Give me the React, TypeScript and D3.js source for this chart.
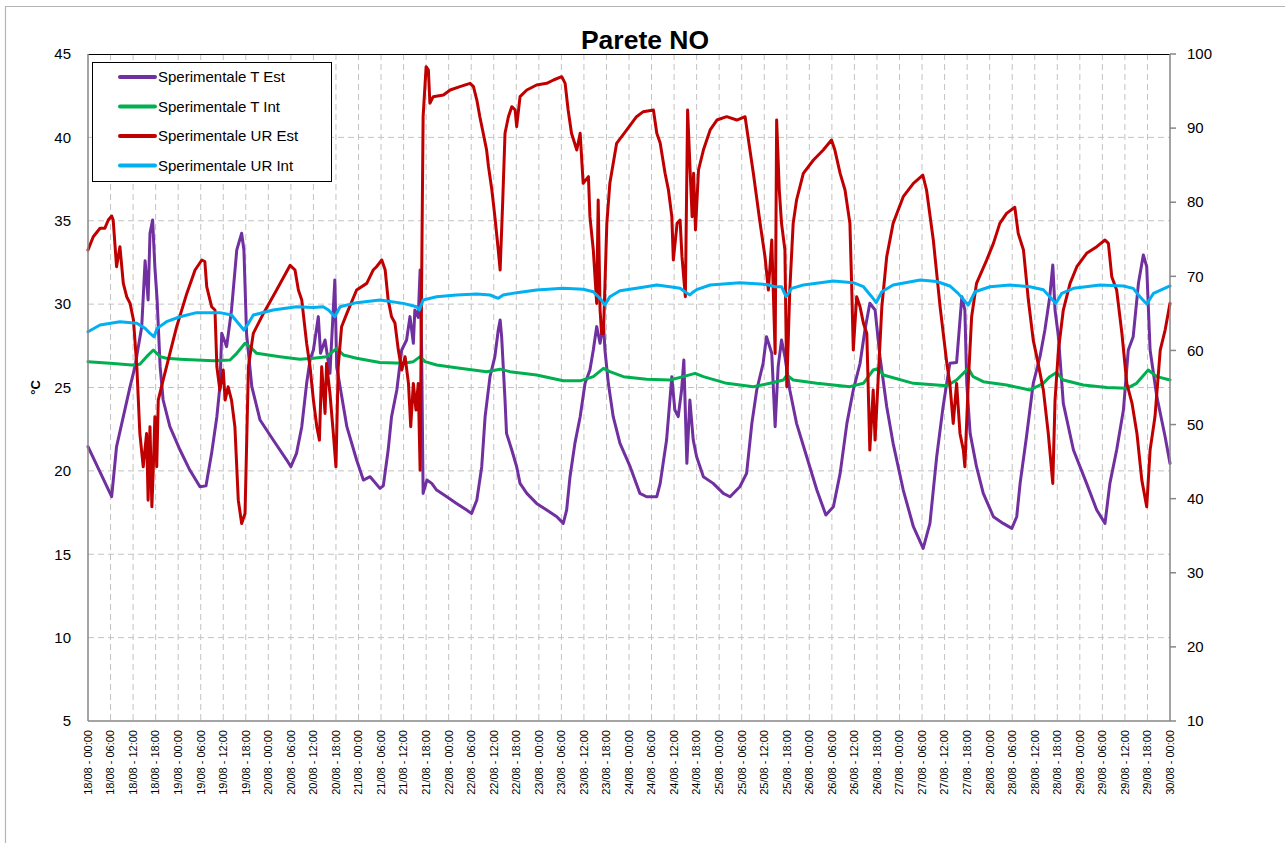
import React from "react";
import * as d3 from "d3";

// ---------- DATA ----------
// time in hours since 18/08 00:00, value
const tEst: [number, number][] = [
  [0, 21.45], [6.3, 18.45], [7.6, 21.45], [9.4, 23.25], [11.2, 25.05], [12.5, 26.25], [14.3, 28.65],
  [15.2, 32.6], [16.0, 30.25], [16.5, 34.25], [17.2, 35.05], [17.8, 32.2], [18.4, 30.25], [19.2, 26.25],
  [20.0, 24.25], [21.8, 22.65], [24.5, 21.25], [27.1, 20.05], [29.8, 19.05], [31.4, 19.1], [32.9, 21.05],
  [34.3, 23.25], [35.1, 25.05], [35.6, 28.25], [36.9, 27.45], [38.2, 29.65], [39.6, 33.25], [40.9, 34.25],
  [41.5, 33.25], [42.2, 28.25], [43.6, 25.05], [45.8, 23.05], [49.3, 21.85], [52.9, 20.65], [54.0, 20.25],
  [55.5, 21.05], [56.9, 22.65], [58.2, 25.25], [59.1, 26.65], [60.0, 27.25], [61.3, 29.25], [61.9, 27.05],
  [63.1, 27.85], [64.4, 25.85], [65.7, 31.45], [66.2, 26.25], [67.1, 25.05], [68.9, 22.65], [71.5, 20.65],
  [73.3, 19.45], [75.1, 19.65], [77.7, 18.95], [78.6, 19.1], [79.9, 21.25], [80.8, 23.25], [82.2, 24.85],
  [83.5, 27.25], [84.8, 27.85], [85.7, 29.25], [86.6, 27.65], [87.0, 29.65], [87.9, 29.2], [88.4, 32.05],
  [88.8, 27.25], [89.2, 18.65], [90.2, 19.45], [91.5, 19.25], [92.8, 18.85], [95.5, 18.45], [98.1, 18.05],
  [100.8, 17.65], [102.1, 17.45], [103.5, 18.25], [104.8, 20.25], [105.7, 23.25], [107.0, 25.65],
  [108.3, 26.85], [109.2, 28.45], [109.7, 29.05], [110.1, 28.05], [111.0, 24.25], [111.4, 22.25],
  [112.8, 21.25], [114.1, 20.25], [115.0, 19.25], [116.8, 18.65], [119.4, 18.05], [122.1, 17.65],
  [124.8, 17.25], [126.5, 16.85], [127.4, 17.65], [128.3, 19.65], [129.6, 21.65], [131.0, 23.25],
  [132.3, 25.25], [133.6, 26.05], [134.5, 27.25], [135.4, 28.65], [136.3, 27.65], [137.2, 28.85],
  [137.6, 27.25], [138.5, 25.25], [139.8, 23.25], [141.6, 21.65], [144.3, 20.25], [146.9, 18.65],
  [148.7, 18.45], [151.4, 18.45], [152.3, 19.25], [154.0, 21.85], [155.4, 25.65], [156.2, 23.65],
  [157.1, 23.25], [158.0, 24.85], [158.6, 26.65], [159.4, 20.45], [160.2, 24.25], [161.1, 21.85],
  [162.0, 20.85], [163.8, 19.65], [166.4, 19.25], [169.1, 18.65], [170.9, 18.45], [173.5, 19.05],
  [175.3, 19.85], [176.7, 22.85], [178.0, 24.85], [179.7, 26.45], [180.6, 28.05], [182.0, 27.05],
  [182.9, 22.65], [183.7, 26.25], [184.6, 27.85], [185.5, 26.85], [186.8, 24.85], [188.6, 22.85],
  [191.3, 20.85], [194.0, 18.85], [196.4, 17.35], [198.4, 17.85], [200.2, 19.85], [202.0, 22.85],
  [203.7, 24.85], [205.5, 26.45], [206.8, 28.45], [208.1, 30.05], [209.5, 29.65], [210.8, 26.85],
  [212.6, 23.85], [214.3, 21.65], [217.0, 18.85], [219.7, 16.65], [222.3, 15.35], [224.1, 16.85],
  [225.9, 20.85], [227.6, 23.85], [229.4, 26.45], [231.2, 26.5], [232.6, 30.45], [233.4, 29.65],
  [233.9, 25.25], [234.8, 22.25], [236.5, 20.25], [238.3, 18.65], [241.0, 17.25], [243.6, 16.85],
  [245.9, 16.55], [247.2, 17.25], [248.1, 19.25], [249.8, 22.05], [251.6, 25.25], [253.4, 26.85],
  [254.7, 28.45], [256.0, 30.45], [256.8, 32.35], [257.4, 29.65], [258.3, 28.05], [259.6, 24.05],
  [262.3, 21.25], [265.8, 19.25], [268.5, 17.65], [270.7, 16.85], [272.0, 19.25], [273.8, 21.25],
  [275.6, 23.65], [276.9, 27.25], [278.2, 28.05], [279.6, 31.25], [280.9, 32.95], [281.8, 32.25],
  [282.7, 27.25], [284.5, 24.45], [286.7, 22.05], [288, 20.45],
];

const tInt: [number, number][] = [
  [0, 26.55], [5.9, 26.45], [11.6, 26.35], [13.8, 26.4], [15.6, 26.85], [17.4, 27.25], [19.2, 26.85],
  [20.9, 26.75], [24.5, 26.7], [28.9, 26.65], [33.4, 26.6], [37.8, 26.65], [39.6, 27.05], [41.8, 27.65],
  [43.1, 27.45], [44.9, 27.05], [51.1, 26.85], [56.4, 26.7], [60.0, 26.75], [63.5, 26.85], [66.2, 27.35],
  [68.0, 26.95], [71.5, 26.75], [77.7, 26.5], [83.9, 26.45], [86.6, 26.55], [88.4, 26.85], [89.7, 26.55],
  [92.8, 26.35], [99.0, 26.15], [106.1, 25.95], [109.7, 26.1], [112.3, 25.95], [119.4, 25.75],
  [126.5, 25.4], [131.0, 25.4], [134.5, 25.65], [137.2, 26.15], [138.9, 25.95], [142.5, 25.65],
  [148.7, 25.5], [154.9, 25.45], [158.4, 25.65], [161.6, 25.85], [163.8, 25.65], [170.0, 25.25],
  [177.1, 25.05], [181.5, 25.25], [185.1, 25.45], [186.0, 25.75], [187.7, 25.45], [194.0, 25.25],
  [202.8, 25.05], [206.4, 25.25], [209.0, 26.05], [210.4, 26.15], [211.7, 25.75], [219.7, 25.25],
  [228.6, 25.1], [231.2, 25.45], [234.3, 26.15], [235.6, 25.65], [238.3, 25.35], [244.5, 25.15],
  [250.7, 24.85], [254.3, 25.25], [256.0, 25.65], [257.8, 25.9], [259.6, 25.45], [264.9, 25.15],
  [271.2, 25.0], [276.5, 24.95], [279.1, 25.25], [282.2, 26.05], [284.5, 25.65], [288, 25.45],
];

const urEst: [number, number][] = [
  [0, 73.55], [1.4, 75.35], [3.2, 76.48], [4.5, 76.5], [5.4, 77.6], [6.3, 78.14], [6.7, 77.6], [7.6, 71.3],
  [8.5, 74.0], [9.4, 69.05], [10.3, 67.25], [11.2, 66.35], [12.1, 64.1], [13.0, 57.8], [13.8, 48.8],
  [14.7, 44.3], [15.6, 48.8], [16.0, 39.8], [16.5, 49.7], [17.0, 38.9], [17.4, 44.3], [17.8, 51.05],
  [18.3, 44.3], [18.7, 53.3], [20.0, 56.0], [21.8, 59.6], [23.6, 63.2], [26.3, 67.7], [28.5, 70.85],
  [30.3, 72.2], [31.1, 72.0], [31.6, 68.6], [32.9, 65.9], [33.8, 65.45], [34.3, 57.8], [35.1, 54.65],
  [36.0, 57.35], [36.5, 53.3], [37.3, 55.1], [38.2, 53.3], [39.1, 49.7], [40.0, 39.8], [40.9, 36.65],
  [41.8, 38.0], [42.7, 57.8], [44.0, 62.3], [46.7, 65.0], [50.2, 68.15], [53.8, 71.5], [55.1, 70.85],
  [56.0, 68.15], [56.9, 66.8], [58.2, 60.95], [59.1, 57.8], [60.0, 53.3], [60.9, 49.7], [61.6, 47.9],
  [62.2, 57.8], [63.1, 51.5], [63.5, 58.25], [64.4, 54.2], [65.3, 48.8], [66.0, 44.3], [66.6, 57.8],
  [67.5, 63.2], [68.9, 65.0], [71.5, 68.15], [74.2, 69.05], [75.9, 70.85], [76.8, 71.3], [78.2, 72.2],
  [79.1, 70.85], [79.9, 66.8], [80.8, 64.55], [81.7, 63.7], [82.6, 60.05], [83.5, 57.35], [84.4, 59.15],
  [85.3, 55.55], [85.9, 49.7], [86.6, 55.55], [87.3, 51.95], [87.9, 55.55], [88.4, 43.85], [88.8, 69.05],
  [89.2, 91.54], [90.0, 98.29], [90.6, 97.84], [91.0, 93.35], [91.9, 94.24], [94.6, 94.47], [96.4, 95.14],
  [99.0, 95.59], [101.7, 96.04], [102.6, 95.59], [103.5, 93.79], [104.3, 91.54], [105.2, 89.3],
  [106.1, 87.04], [106.6, 84.8], [107.5, 81.65], [108.3, 78.05], [109.2, 73.55], [109.7, 70.85],
  [110.4, 80.3], [111.0, 89.3], [111.9, 91.54], [112.8, 92.89], [113.7, 92.44], [114.1, 90.19],
  [115.0, 94.24], [116.8, 95.14], [119.4, 95.82], [122.1, 96.04], [123.9, 96.49], [126.1, 96.94],
  [127.0, 96.04], [127.8, 92.44], [128.7, 89.3], [130.1, 87.04], [131.0, 89.3], [131.8, 82.55],
  [133.2, 83.45], [133.6, 78.05], [134.5, 73.55], [135.4, 66.35], [135.8, 80.3], [136.3, 65.45],
  [136.7, 62.3], [137.2, 62.3], [138.1, 77.15], [138.9, 82.55], [140.7, 87.94], [143.4, 89.75],
  [146.0, 91.54], [147.8, 92.22], [150.5, 92.44], [151.4, 89.3], [152.3, 88.0], [153.6, 83.9],
  [154.5, 81.65], [155.4, 78.05], [155.8, 72.2], [156.8, 77.15], [157.6, 77.6], [158.1, 72.65],
  [159.0, 67.25], [159.6, 92.44], [160.3, 83.9], [160.8, 78.05], [161.2, 83.9], [161.7, 76.25],
  [162.5, 84.35], [163.8, 87.04], [165.6, 89.75], [167.4, 91.09], [170.0, 91.54], [172.7, 91.09],
  [174.9, 91.54], [175.8, 88.4], [177.1, 83.9], [178.9, 77.15], [180.2, 72.65], [181.1, 68.15],
  [182.0, 74.9], [182.9, 59.6], [183.3, 91.09], [184.0, 81.65], [184.6, 77.15], [185.5, 73.55],
  [186.0, 55.1], [186.8, 68.15], [187.7, 77.15], [188.6, 80.3], [190.4, 83.9], [193.1, 85.7],
  [195.7, 87.04], [197.9, 88.4], [198.8, 87.04], [200.2, 83.9], [201.5, 81.65], [202.8, 77.15],
  [203.3, 68.15], [203.7, 60.05], [204.6, 67.25], [205.5, 65.9], [206.4, 63.66], [207.3, 62.3],
  [208.1, 46.55], [209.0, 54.65], [209.5, 47.9], [210.4, 56.9], [211.3, 65.9], [212.6, 72.65],
  [214.3, 77.15], [217.0, 80.75], [219.7, 82.55], [222.2, 83.67], [223.2, 81.65], [225.0, 74.9],
  [226.8, 65.9], [228.6, 58.25], [229.4, 55.55], [230.3, 50.15], [231.2, 55.55], [232.1, 48.8],
  [233.0, 46.55], [233.4, 44.3], [234.3, 55.55], [235.2, 64.55], [236.5, 69.05], [239.2, 72.2],
  [241.0, 74.45], [242.7, 77.15], [244.5, 78.5], [246.7, 79.31], [247.6, 75.8], [249.0, 73.55],
  [250.3, 66.8], [251.6, 61.4], [252.9, 58.25], [254.3, 54.65], [255.6, 48.8], [256.8, 42.06],
  [257.4, 53.3], [258.3, 60.05], [259.6, 65.45], [261.4, 69.05], [263.2, 71.3], [265.8, 73.1],
  [268.5, 74.0], [270.7, 74.9], [271.6, 74.45], [272.5, 69.95], [273.8, 68.15], [275.2, 62.3],
  [276.5, 55.55], [277.9, 52.85], [279.2, 48.8], [280.5, 42.5], [281.8, 38.9], [282.7, 46.55],
  [284.0, 51.05], [285.4, 60.05], [286.7, 62.75], [288, 66.35],
];

const urInt: [number, number][] = [
  [0, 62.53], [3.2, 63.43], [8.5, 63.88], [13.0, 63.66], [15.2, 62.98], [16.5, 62.3], [17.6, 61.85],
  [18.4, 62.98], [20.9, 63.88], [24.5, 64.55], [28.9, 65.1], [35.1, 65.1], [38.2, 64.78], [40.0, 63.66],
  [41.5, 62.75], [42.7, 63.66], [44.0, 64.78], [49.3, 65.45], [55.5, 65.9], [60.0, 65.8], [62.6, 65.9],
  [64.0, 65.45], [65.7, 64.55], [67.1, 65.9], [71.5, 66.45], [77.7, 66.8], [83.9, 66.35], [87.5, 65.9],
  [88.2, 65.45], [89.2, 66.8], [92.8, 67.25], [98.1, 67.48], [103.5, 67.6], [107.0, 67.48],
  [109.2, 67.03], [110.5, 67.48], [114.1, 67.8], [119.4, 68.15], [126.5, 68.38], [131.8, 68.25],
  [134.5, 67.92], [136.3, 67.03], [137.6, 66.13], [138.9, 67.25], [141.6, 68.06], [146.0, 68.38],
  [151.4, 68.83], [154.9, 68.6], [157.6, 68.4], [158.9, 67.92], [160.2, 67.48], [161.1, 67.9],
  [162.0, 68.2], [165.6, 68.83], [173.5, 69.14], [180.6, 68.9], [182.9, 68.6], [184.6, 68.6],
  [185.8, 67.25], [187.3, 68.38], [190.4, 68.83], [198.4, 69.37], [203.7, 69.14], [206.4, 68.6],
  [208.6, 67.25], [209.8, 66.45], [211.3, 67.92], [214.3, 68.83], [221.5, 69.5], [225.9, 69.3],
  [229.4, 68.7], [231.6, 67.7], [234.3, 66.13], [236.1, 67.92], [240.1, 68.6], [245.4, 68.83],
  [250.7, 68.6], [254.3, 68.2], [256.0, 67.25], [257.6, 66.35], [259.2, 67.7], [262.3, 68.38],
  [269.4, 68.83], [275.6, 68.7], [278.2, 68.38], [280.0, 67.25], [281.8, 66.26], [283.6, 67.7],
  [288, 68.7],
];

const days = ["18", "19", "20", "21", "22", "23", "24", "25", "26", "27", "28", "29", "30"];
const hours = ["00:00", "06:00", "12:00", "18:00"];
const leftTicks = [5, 10, 15, 20, 25, 30, 35, 40, 45];
const rightTicks = [10, 20, 30, 40, 50, 60, 70, 80, 90, 100];
const seriesNames = ["Sperimentale T Est", "Sperimentale T Int", "Sperimentale UR Est", "Sperimentale UR Int"];
const seriesColors = ["#7030A0", "#00B050", "#C00000", "#00B0F0"];

// ---------- CHART ----------
const W = 1285;
const H = 843;
const L = 88, R = 1170, T = 54, B = 721;
const FONT = "'Liberation Sans', Arial, sans-serif";

export default function App() {
  const xTicks: { t: number; label: string }[] = [];
  days.forEach((d, i) => {
    hours.forEach((h, j) => {
      const t = i * 24 + j * 6;
      if (t <= 288) xTicks.push({ t, label: `${d}/08 - ${h}` });
    });
  });

  const x = d3.scaleLinear().domain([0, 288]).range([L, R]);
  const yL = d3.scaleLinear().domain([5, 45]).range([B, T]);
  const yR = d3.scaleLinear().domain([10, 100]).range([B, T]);

  const lineL = d3.line<[number, number]>().x((d) => x(d[0])).y((d) => yL(d[1]));
  const lineR = d3.line<[number, number]>().x((d) => x(d[0])).y((d) => yR(d[1]));

  const series = [
    { d: lineL(tEst), c: seriesColors[0] },
    { d: lineL(tInt), c: seriesColors[1] },
    { d: lineR(urEst), c: seriesColors[2] },
    { d: lineR(urInt), c: seriesColors[3] },
  ];

  return (
    <svg
      width={W}
      height={H}
      style={{ position: "absolute", left: 0, top: 0, background: "#fff" }}
      fontFamily={FONT}
    >
      <rect x={0} y={0} width={W} height={H} fill="#fff" />
      {/* outer chart border */}
      <path d={`M5.5,${H} V6.5 H${W}`} fill="none" stroke="#b4b4b4" strokeWidth={1.2} />

      {/* title */}
      <text x={645} y={49} textAnchor="middle" fontSize={26.5} fontWeight="bold" fill="#000">
        Parete NO
      </text>

      {/* gridlines */}
      {leftTicks
        .filter((v) => v !== 5 && v !== 45)
        .map((v) => (
          <line key={"h" + v} x1={L} x2={R} y1={yL(v)} y2={yL(v)} stroke="#c3c3c3" strokeWidth={1} strokeDasharray="6,4" />
        ))}
      {xTicks
        .filter((d) => d.t !== 0 && d.t !== 288)
        .map((d) => (
          <line key={"v" + d.t} x1={x(d.t)} x2={x(d.t)} y1={T} y2={B} stroke="#c3c3c3" strokeWidth={1} strokeDasharray="6,4" />
        ))}

      {/* plot border top */}
      <line x1={L} x2={R} y1={T + 0.5} y2={T + 0.5} stroke="#000" strokeWidth={1} />

      {/* series */}
      <g fill="none" strokeWidth={3} strokeLinejoin="round" strokeLinecap="round">
        {series.map((s, i) => (
          <path key={i} d={s.d || ""} stroke={s.c} />
        ))}
      </g>

      {/* axes */}
      <line x1={L} x2={L} y1={T} y2={B} stroke="#868686" strokeWidth={1.5} />
      <line x1={R} x2={R} y1={T} y2={B} stroke="#868686" strokeWidth={1.5} />
      <line x1={L} x2={R} y1={B} y2={B} stroke="#868686" strokeWidth={1.5} />

      {/* left tick labels */}
      {leftTicks.map((v) => (
        <text key={"lt" + v} x={71} y={yL(v)} dy="0.35em" textAnchor="end" fontSize={15} fill="#000">
          {v}
        </text>
      ))}
      {/* right ticks */}
      {rightTicks.map((v) => (
        <g key={"rt" + v}>
          <line x1={R} x2={R + 6} y1={yR(v)} y2={yR(v)} stroke="#868686" strokeWidth={1.5} />
          <text x={1187} y={yR(v)} dy="0.35em" textAnchor="start" fontSize={15} fill="#000">
            {v}
          </text>
        </g>
      ))}

      {/* y-axis title */}
      <text
        transform={`translate(40,${(T + B) / 2}) rotate(-90)`}
        textAnchor="middle"
        fontSize={13}
        fontWeight="bold"
        fill="#000"
      >
        °C
      </text>

      {/* x tick labels */}
      {xTicks.map((d) => (
        <text
          key={"xl" + d.t}
          transform={`translate(${x(d.t)},730) rotate(-90)`}
          textAnchor="end"
          dy="0.35em"
          fontSize={11}
          fill="#000"
        >
          {d.label}
        </text>
      ))}

      {/* legend */}
      <rect x={92.5} y={62.5} width={239} height={119} fill="#fff" stroke="#000" strokeWidth={1} />
      {seriesNames.map((n, i) => {
        const yy = 77 + i * 29.5;
        return (
          <g key={n}>
            <line x1={120} x2={155} y1={yy} y2={yy} stroke={seriesColors[i]} strokeWidth={4} strokeLinecap="round" />
            <text x={158} y={yy} dy="0.35em" fontSize={15} fill="#000">
              {n}
            </text>
          </g>
        );
      })}
    </svg>
  );
}
